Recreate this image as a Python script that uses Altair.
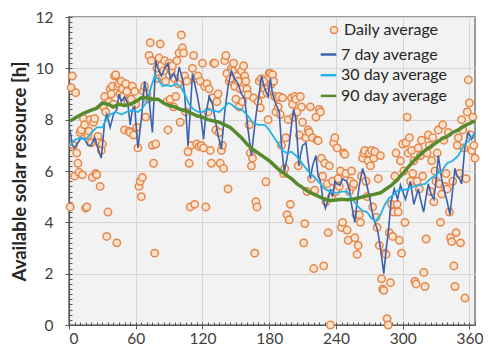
import altair as alt
import pandas as pd

# ---------------- data ----------------
days = list(range(1, 366))
daily = [
    4.6, 9.25, 9.7, 7.0, 5.8, 9.05, 6.7, 6.3, 5.95, 7.5,
    7.6, 5.85, 8.05, 7.8, 4.55, 4.6, 7.4, 7.55, 8.0, 7.1,
    5.75, 7.9, 8.05, 5.9, 5.85, 7.35, 7.1, 5.4, 6.8, 7.05,
    8.5, 8.9, 8.3, 3.45, 4.4, 8.7, 9.2, 9.0, 9.3, 8.6,
    9.7, 9.75, 3.2, 9.3, 9.4, 9.0, 9.5, 9.2, 8.9, 7.6,
    9.4, 9.1, 8.7, 7.55, 7.5, 8.8, 9.3, 7.4, 9.1, 8.6,
    7.7, 6.9, 5.4, 5.6, 5.0, 5.75, 9.1, 9.3, 8.1, 9.0,
    8.8, 10.5, 11.0, 10.3, 7.0, 6.3, 2.8, 7.05, 10.0, 9.6,
    10.4, 10.95, 10.1, 9.7, 9.9, 10.3, 9.5, 8.7, 7.6, 10.2,
    8.8, 9.9, 10.1, 8.5, 9.6, 8.9, 10.3, 9.4, 10.6, 7.9,
    11.3, 10.8, 10.6, 9.7, 8.3, 9.5, 6.75, 6.3, 4.6, 7.0,
    10.0, 10.5, 4.7, 9.6, 7.05, 9.7, 6.95, 9.5, 7.0, 10.2,
    6.9, 9.3, 4.6, 9.4, 8.3, 9.2, 6.8, 6.3, 8.85, 10.2,
    10.2, 7.6, 8.7, 9.0, 7.5, 6.3, 6.8, 7.0, 6.1, 10.3,
    10.5, 9.8, 5.3, 9.5, 9.6, 10.0, 9.9, 10.2, 9.3, 8.8,
    9.7, 9.5, 8.5, 9.2, 9.9, 8.7, 10.1, 9.7, 9.5, 9.2,
    8.97, 7.8, 6.7, 6.2, 6.5, 8.85, 2.8, 4.8, 4.6, 8.7,
    9.5, 8.46, 9.6, 9.0, 9.5, 9.2, 5.58, 9.05, 8.0, 9.8,
    9.8, 9.4, 9.75, 9.5, 8.9, 8.3, 8.85, 8.5, 8.9, 8.2,
    7.0, 8.85, 5.9, 6.1, 7.3, 4.3, 8.0, 4.1, 4.7, 8.85,
    8.6, 8.1, 8.9, 8.8, 8.3, 6.2, 7.4, 8.9, 8.5, 7.9,
    3.2, 3.95, 7.3, 5.2, 7.6, 7.5, 8.5, 5.7, 7.3, 2.2,
    5.25, 8.1, 7.2, 7.18, 8.4, 8.3, 6.5, 5.8, 2.3, 6.3,
    4.8, 5.5, 3.6, 6.2, 0.0, 5.0, 5.6, 7.1, 7.3, 5.2,
    6.9, 5.7, 5.4, 6.0, 3.8, 4.0, 6.7, 6.65, 5.9, 3.7,
    3.3, 5.2, 5.6, 6.0, 5.4, 5.5, 3.4, 4.3, 2.75, 3.1,
    4.3, 4.0, 5.8, 6.5, 6.7, 6.8, 5.6, 5.0, 6.4, 6.7,
    6.2, 6.8, 4.6, 6.5, 6.75, 4.2, 3.8, 5.7, 3.1, 6.6,
    1.8, 1.4, 1.35, 2.8, 2.75, 0.25, 0.0, 3.6, 1.65, 4.7,
    3.45, 4.4, 5.8, 6.7, 4.7, 4.4, 3.3, 6.4, 2.8, 7.05,
    6.0, 4.0, 7.1, 8.1, 6.7, 7.3, 5.6, 6.8, 5.9, 6.4,
    1.7, 1.6, 5.6, 6.9, 5.3, 6.6, 7.2, 5.8, 2.05, 1.5,
    3.35, 6.7, 7.4, 7.0, 5.2, 6.4, 7.3, 4.8, 6.0, 5.6,
    6.7, 7.6, 5.5, 4.0, 5.1, 7.8, 7.2, 5.4, 5.9, 5.3,
    7.5, 4.4, 3.4, 3.25, 5.6, 2.3, 1.5, 3.6, 7.0, 7.3,
    5.9, 3.2, 8.0, 7.6, 6.9, 1.05, 5.7, 8.3, 9.55, 8.65,
    7.4, 6.8, 8.1, 7.0, 6.5,
]

d7_day = [1, 3, 5, 8, 11, 14, 17, 20, 23, 26, 29, 32, 34, 37, 40, 43, 45, 47, 50, 53,
          55, 57, 59, 62, 65, 68, 70, 72, 75, 78, 80, 83, 86, 89, 91, 94, 97, 99, 102, 104,
          107, 109, 111, 113, 115, 118, 121, 123, 126, 129, 131, 134, 137, 140, 143, 146, 149, 152, 155, 158,
          161, 164, 166, 168.5, 171, 173, 176, 179, 181, 183, 186, 189, 191, 193.5, 196, 198, 200, 202, 204, 206.7,
          208, 210, 213, 215, 217, 219, 222, 224, 226, 228, 230.5, 233, 235, 237, 239, 241, 243.6, 246, 249.5, 252,
          254, 257, 259, 261, 264, 266, 269, 271, 273, 275, 277.6, 280, 283, 285, 287, 289.5, 292.4, 295.4, 298, 300,
          302.5, 305, 307, 310, 312, 314, 316, 318.8, 321, 323, 325.5, 328, 330, 332, 335, 337, 339.5, 342.5, 345, 347,
          349, 351, 353, 356, 359, 362, 365]
d7_val = [7.6, 7.0, 6.9, 7.1, 7.3, 7.25, 7.0, 7.0, 7.3, 6.9, 6.5, 7.9, 8.2, 7.7, 8.2, 8.4, 9.0, 8.7, 8.9, 8.6,
          7.8, 8.4, 8.5, 6.9, 8.0, 9.5, 9.0, 8.8, 7.5, 10.3, 10.0, 9.7, 10.0, 10.2, 9.6, 9.8, 9.5, 10.05, 9.6, 9.0,
          7.0, 8.3, 9.8, 9.4, 9.0, 8.3, 7.24, 8.2, 8.9, 8.6, 8.1, 7.4, 6.86, 8.3, 9.3, 9.9, 9.6, 9.4, 9.0, 8.8,
          7.6, 6.6, 7.4, 8.3, 9.0, 9.7, 9.2, 8.9, 9.6, 9.0, 8.6, 8.3, 7.0, 5.96, 6.5, 7.0, 7.8, 8.4, 8.0, 6.2,
          6.6, 7.0, 7.1, 6.4, 5.7, 6.2, 6.6, 5.8, 5.6, 5.0, 4.55, 4.9, 5.3, 5.0, 5.6, 5.5, 5.45, 5.7, 5.6, 5.3,
          4.7, 4.0, 4.8, 5.45, 6.1, 5.8, 5.2, 4.8, 4.3, 4.0, 3.65, 3.0, 2.0, 2.9, 3.6, 4.8, 5.3, 4.9, 5.45, 5.2,
          4.9, 5.3, 5.6, 4.7, 5.0, 5.3, 4.9, 4.4, 5.0, 5.5, 5.1, 4.9, 5.6, 6.6, 5.7, 5.3, 4.9, 4.3, 5.3, 6.1,
          5.8, 5.7, 5.5, 7.0, 7.5, 7.24, 7.5]

d30_day = [1, 5, 10, 15, 20, 25, 30, 33, 37, 42, 47, 52, 57, 62, 66, 70, 74, 77, 80, 84,
           88, 92, 96, 100, 104, 108, 112, 116, 120, 125, 130, 135, 140, 143, 146, 150, 155, 160, 165, 170,
           176, 180, 186, 192, 196, 200, 204, 208, 213, 217, 222, 226, 230, 235, 240, 245, 250, 255, 260, 264,
           268, 272, 276, 280, 284, 288, 292, 296, 300, 305, 310, 315, 320, 325, 330, 335, 340, 345, 350, 355,
           360, 365]
d30_val = [7.0, 7.2, 7.3, 7.2, 7.5, 7.7, 7.7, 7.95, 8.2, 8.3, 8.2, 8.3, 8.35, 8.3, 8.45, 8.7, 9.3, 9.7, 9.6, 9.3,
           9.35, 9.3, 9.4, 9.3, 9.0, 8.6, 8.4, 8.3, 8.3, 8.4, 8.35, 8.3, 8.5, 8.65, 8.6, 8.45, 8.4, 8.2, 7.9, 7.8,
           7.8, 7.6, 7.2, 6.8, 6.7, 6.75, 6.6, 6.4, 6.1, 5.9, 5.7, 5.5, 5.3, 5.2, 5.15, 5.2, 5.2, 4.9, 4.6, 4.45,
           4.4, 4.15, 4.05, 4.3, 4.7, 4.95, 5.1, 5.25, 5.25, 5.3, 5.4, 5.45, 5.5, 5.7, 5.85, 6.0, 6.3, 6.4, 6.6, 7.0,
           7.2, 7.5]

d90_day = [1, 7, 13, 19, 25, 30, 35, 40, 45, 50, 55, 60, 65, 70, 75, 80, 85, 90, 95, 100,
           105, 110, 115, 120, 125, 130, 135, 140, 145, 150, 155, 160, 165, 170, 175, 180, 185, 190, 195, 200,
           205, 210, 215, 220, 225, 230, 235, 240, 245, 250, 255, 260, 265, 270, 275, 280, 285, 290, 295, 300,
           305, 310, 315, 320, 325, 330, 335, 340, 345, 350, 355, 360, 365]
d90_val = [7.95, 8.1, 8.25, 8.35, 8.45, 8.65, 8.6, 8.5, 8.6, 8.55, 8.6, 8.7, 8.85, 8.85, 8.8, 8.8, 8.65, 8.55, 8.5, 8.4,
           8.35, 8.25, 8.15, 8.1, 8.0, 7.95, 7.9, 7.8, 7.7, 7.5, 7.3, 7.05, 6.85, 6.7, 6.55, 6.4, 6.2, 6.0, 5.85, 5.7,
           5.5, 5.35, 5.2, 5.1, 5.0, 4.9, 4.85, 4.87, 4.9, 4.88, 4.9, 4.95, 5.0, 5.05, 5.1, 5.15, 5.3, 5.45, 5.65, 5.9,
           6.15, 6.4, 6.6, 6.8, 6.95, 7.1, 7.25, 7.35, 7.5, 7.6, 7.75, 7.85, 7.95]

series_lines = ["7 day average", "30 day average", "90 day average"]
line_colors = ["#3d62ad", "#22b3ea", "#568a2f"]
x_major = [0, 60, 120, 180, 240, 300, 360]
x_minor = list(range(0, 366, 5))
y_major = [0, 2, 4, 6, 8, 10, 12]
y_minor = [round(i * 0.2, 1) for i in range(61)]

# ---------------- tables ----------------
pts = pd.DataFrame({"day": days, "value": daily, "series": "Daily average"})
l7 = pd.DataFrame({"day": d7_day, "value": d7_val, "series": series_lines[0]})
l30 = pd.DataFrame({"day": d30_day, "value": d30_val, "series": series_lines[1]})
l90 = pd.DataFrame({"day": d90_day, "value": d90_val, "series": series_lines[2]})

FONT = "Lato"
AX = "#595959"
xs = alt.Scale(domain=[0, 365], nice=False, zero=False)
ys = alt.Scale(domain=[0, 12], nice=False, zero=False)

x_main_axis = alt.Axis(values=x_major, grid=True, gridColor="#d6d6d6", tickSize=4, tickColor=AX,
                       domainColor=AX, domainWidth=1.2, labelFont=FONT, labelFontSize=15.5,
                       labelColor="#404040", labelPadding=2, title=None)
y_main_axis = alt.Axis(values=y_major, grid=True, gridColor="#d6d6d6", tickSize=4, tickColor=AX,
                       domainColor=AX, domainWidth=1.2, labelFont=FONT, labelFontSize=15.5,
                       labelColor="#404040", labelPadding=12, title="Available solar resource [h]",
                       titleFont=FONT, titleFontSize=18.5, titleFontWeight="bold", titleColor="#262626",
                       titlePadding=6)
x_minor_axis = alt.Axis(orient="bottom", values=x_minor, offset=-3, tickSize=3, tickColor=AX,
                        labels=False, domain=False, grid=False, title=None)
y_minor_axis = alt.Axis(orient="left", values=y_minor, offset=-3, tickSize=3, tickColor=AX,
                        labels=False, domain=False, grid=False, title=None)

stroke_scale = alt.Scale(domain=series_lines, range=line_colors)
line_legend = alt.Legend(title=None, orient="none", legendX=250, legendY=28, symbolType="stroke",
                         symbolSize=242, symbolStrokeWidth=2.5, labelFont=FONT, labelFontSize=16,
                         labelColor="#262626", rowPadding=2.7, padding=0, labelOffset=3)

points = alt.Chart(pts).mark_point(shape="circle", filled=False, fill="#fbe3cf", size=55,
                                   strokeWidth=1.5, opacity=1).encode(
    x=alt.X("day:Q", scale=xs, axis=x_main_axis),
    y=alt.Y("value:Q", scale=ys, axis=y_main_axis),
    color=alt.Color("series:N", scale=alt.Scale(domain=["Daily average"], range=["#e5874a"]),
                    legend=alt.Legend(title=None, orient="none", legendX=257, legendY=5,
                                      labelFont=FONT, labelFontSize=16, labelColor="#262626",
                                      symbolSize=50, symbolStrokeWidth=1.5, padding=0, labelOffset=2)),
)

line7 = alt.Chart(l7).mark_line(strokeWidth=1.6).encode(
    x=alt.X("day:Q", scale=xs, axis=None),
    y=alt.Y("value:Q", scale=ys, axis=None),
    stroke=alt.Stroke("series:N", scale=stroke_scale, legend=line_legend),
)
line30 = alt.Chart(l30).mark_line(strokeWidth=1.8).encode(
    x=alt.X("day:Q", scale=xs, axis=None),
    y=alt.Y("value:Q", scale=ys, axis=None),
    stroke=alt.Stroke("series:N", scale=stroke_scale, legend=line_legend),
)
line90 = alt.Chart(l90).mark_line(strokeWidth=3.5).encode(
    x=alt.X("day:Q", scale=xs, axis=x_minor_axis),
    y=alt.Y("value:Q", scale=ys, axis=y_minor_axis),
    stroke=alt.Stroke("series:N", scale=stroke_scale, legend=line_legend),
)

chart = alt.layer(points, line7, line30, line90).resolve_axis(
    x="independent", y="independent"
).properties(
    width=406, height=308,
    autosize=alt.AutoSizeParams(type="none"),
    padding={"left": 61, "top": 9, "right": 8, "bottom": 27},
    background="white",
).configure_view(fill="#f2f2f2", stroke="#9a9a9a", strokeWidth=2)

chart.save("out.html", embed_options={"renderer": "svg", "actions": False})
